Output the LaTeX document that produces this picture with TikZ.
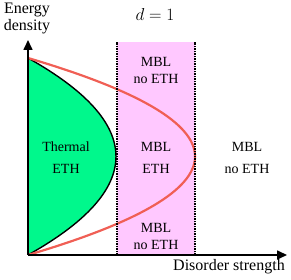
\documentclass[tikz,border=0pt]{standalone}
\usepackage{fontspec}
\setmainfont{Liberation Serif}
\usetikzlibrary{arrows.meta}
\definecolor{bandpink}{RGB}{255,200,255}
\definecolor{thermgreen}{RGB}{0,248,140}
\definecolor{edgered}{RGB}{240,95,85}

\begin{document}
\begin{tikzpicture}[x=1pt,y=1pt,>={Triangle[length=10pt,width=9pt]},
  every node/.style={font=\fontsize{14}{17}\selectfont,align=center},
  axislab/.style={font=\fontsize{16}{17}\selectfont},
  axis/.style={line width=1.6pt,->},
  edge/.style={line width=1.5pt,densely dotted}]
\useasboundingbox (0,0) rectangle (291,280);
\coordinate (O) at (28,25);
\coordinate (top) at (28,222);
\coordinate (bl) at (117,25);
\coordinate (tr) at (195,238);
\fill[bandpink] (bl) rectangle (tr);
\fill[thermgreen] (top) .. controls (145.3,156.3) and (145.3,90.7) .. (O) -- cycle;
\draw[line width=1.4pt] (top) .. controls (145.3,156.3) and (145.3,90.7) .. (O);
\draw[edgered,line width=2.2pt] (top) .. controls (250.7,156.3) and (250.7,90.7) .. (O);
\draw[edge] (bl) -- (117,238);
\draw[edge] (195,25) -- (tr);
\draw[axis] (O) -- (28,240);
\draw[axis] (O) -- (287,25);
\node[axislab] (ylab) at (27,262) {Energy\\density};
\node[axislab] (xlab) at (229,13) {Disorder strength};
\node[axislab] (dim) at (155,265) {$d=1$};
\node (therm) at (66,122) {Thermal\\[5pt]ETH};
\node (mbleth) at (156,122) {MBL\\[5pt]ETH};
\node (mblR) at (247,122) {MBL\\[5pt]no ETH};
\node (mblT) at (156,210) {MBL\\no ETH};
\node (mblB) at (156,43.5) {MBL\\no ETH};
\end{tikzpicture}
\end{document}
